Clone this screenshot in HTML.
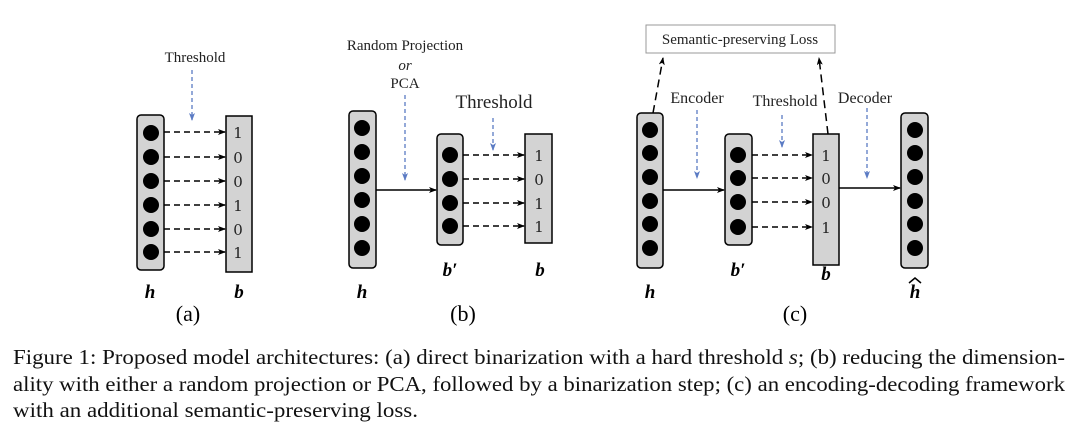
<!DOCTYPE html>
<html><head><meta charset="utf-8"><style>body{margin:0;background:#fff}svg{display:block}</style></head>
<body>
<svg width="1080" height="446" viewBox="0 0 1080 446" xmlns="http://www.w3.org/2000/svg" font-family="Liberation Serif, serif">
<defs>
<marker id="ak" markerWidth="8" markerHeight="6" refX="7" refY="3" orient="auto" markerUnits="userSpaceOnUse"><path d="M0,0 L8,3 L0,6 L2,3z" fill="#000"/></marker>
<marker id="ab" markerWidth="8" markerHeight="6" refX="7" refY="3" orient="auto" markerUnits="userSpaceOnUse"><path d="M0,0 L8,3 L0,6 L2,3z" fill="#5b7bc4"/></marker>
</defs>
<g stroke="#000" stroke-width="1.5" fill="#d3d3d3">
<rect x="137" y="115" width="27" height="155" rx="4"/>
<rect x="226" y="116" width="26" height="156"/>
<rect x="349" y="111" width="27" height="157" rx="4"/>
<rect x="437" y="134" width="26" height="111" rx="4"/>
<rect x="525" y="134" width="27" height="109"/>
<rect x="637" y="113" width="26" height="155" rx="4"/>
<rect x="725" y="134" width="27" height="111" rx="4"/>
<rect x="813" y="134" width="26" height="131"/>
<rect x="901" y="113" width="27" height="155" rx="4"/>
</g>
<rect x="646" y="25" width="189" height="28" fill="#fff" stroke="#999" stroke-width="1"/>
<g fill="#000">
<circle cx="151" cy="133" r="8"/><circle cx="151" cy="157" r="8"/><circle cx="151" cy="181" r="8"/><circle cx="151" cy="205" r="8"/><circle cx="151" cy="229" r="8"/><circle cx="151" cy="252" r="8"/>
<circle cx="362" cy="128" r="8"/><circle cx="362" cy="152" r="8"/><circle cx="362" cy="176" r="8"/><circle cx="362" cy="200" r="8"/><circle cx="362" cy="224" r="8"/><circle cx="362" cy="248" r="8"/>
<circle cx="450" cy="155" r="8"/><circle cx="450" cy="179" r="8"/><circle cx="450" cy="203" r="8"/><circle cx="450" cy="226" r="8"/>
<circle cx="650" cy="130" r="8"/><circle cx="650" cy="153" r="8"/><circle cx="650" cy="177" r="8"/><circle cx="650" cy="201" r="8"/><circle cx="650" cy="224" r="8"/><circle cx="650" cy="248" r="8"/>
<circle cx="738" cy="155" r="8"/><circle cx="738" cy="178" r="8"/><circle cx="738" cy="202" r="8"/><circle cx="738" cy="227" r="8"/>
<circle cx="915" cy="130" r="8"/><circle cx="915" cy="153" r="8"/><circle cx="915" cy="177" r="8"/><circle cx="915" cy="201" r="8"/><circle cx="915" cy="224" r="8"/><circle cx="915" cy="248" r="8"/>
</g>
<g stroke="#000" stroke-width="1.5" stroke-dasharray="6,4" marker-end="url(#ak)" fill="none">
<path d="M164 132H225"/><path d="M164 157H225"/><path d="M164 181H225"/><path d="M164 205H225"/><path d="M164 229H225"/><path d="M164 252H225"/>
<path d="M463 155H524"/><path d="M463 179H524"/><path d="M463 203H524"/><path d="M463 226H524"/>
<path d="M752 155H812"/><path d="M752 178H812"/><path d="M752 202H812"/><path d="M752 227H812"/>
<path d="M653 113L663 58" stroke-dasharray="8,5"/><path d="M828 134L819 58" stroke-dasharray="8,5"/>
</g>
<g stroke="#000" stroke-width="1.5" marker-end="url(#ak)">
<path d="M376 190H436"/><path d="M663 190H724"/><path d="M839 188H900"/>
</g>
<g stroke="#5b7bc4" stroke-width="1.3" stroke-dasharray="4,3" marker-end="url(#ab)">
<path d="M192 70V120"/><path d="M405 95V180"/><path d="M493 118V150"/>
<path d="M697 110V178"/><path d="M782 115V147"/><path d="M867 108V178"/>
</g>
<g font-family="DejaVu Serif, serif" font-size="15" fill="#222" text-anchor="middle">
<text x="238" y="138">1</text><text x="238" y="163">0</text><text x="238" y="187">0</text><text x="238" y="211">1</text><text x="238" y="235">0</text><text x="238" y="258">1</text>
<text x="539" y="161">1</text><text x="539" y="185">0</text><text x="539" y="209">1</text><text x="539" y="232">1</text>
<text x="826" y="161">1</text><text x="826" y="184">0</text><text x="826" y="208">0</text><text x="826" y="233">1</text>
</g>
<g font-size="15" fill="#222" text-anchor="middle">
<text x="195" y="62">Threshold</text>
<text x="405" y="50">Random Projection</text>
<text x="405" y="70" font-style="italic">or</text>
<text x="405" y="88">PCA</text>
<text x="494" y="108" font-size="19">Threshold</text>
<text x="740" y="44">Semantic-preserving Loss</text>
<text x="697" y="103" font-size="16">Encoder</text>
<text x="785" y="106" font-size="16">Threshold</text>
<text x="865" y="103" font-size="16">Decoder</text>
</g>
<g font-size="19" font-weight="bold" font-style="italic" fill="#000" text-anchor="middle">
<text x="150" y="298">h</text><text x="239" y="298">b</text>
<text x="362" y="298">h</text><text x="450" y="276">b′</text><text x="540" y="276">b</text>
<text x="650" y="298">h</text><text x="738" y="276">b′</text><text x="826" y="280">b</text><text x="915" y="298">h</text>
</g>
<path d="M909 283L915 278L921 283" stroke="#000" stroke-width="1.5" fill="none"/>
<g font-size="22" fill="#000" text-anchor="middle">
<text x="188" y="321">(a)</text><text x="463" y="321">(b)</text><text x="795" y="321">(c)</text>
</g>
<g font-size="21" fill="#111">
<text x="13" y="364" textLength="1052" lengthAdjust="spacingAndGlyphs">Figure 1: Proposed model architectures: (a) direct binarization with a hard threshold <tspan font-style="italic">s</tspan>; (b) reducing the dimension-</text>
<text x="13" y="391" textLength="1052" lengthAdjust="spacingAndGlyphs">ality with either a random projection or PCA, followed by a binarization step; (c) an encoding-decoding framework</text>
<text x="13" y="417" textLength="405" lengthAdjust="spacingAndGlyphs">with an additional semantic-preserving loss.</text>
</g>
</svg>
</body></html>
